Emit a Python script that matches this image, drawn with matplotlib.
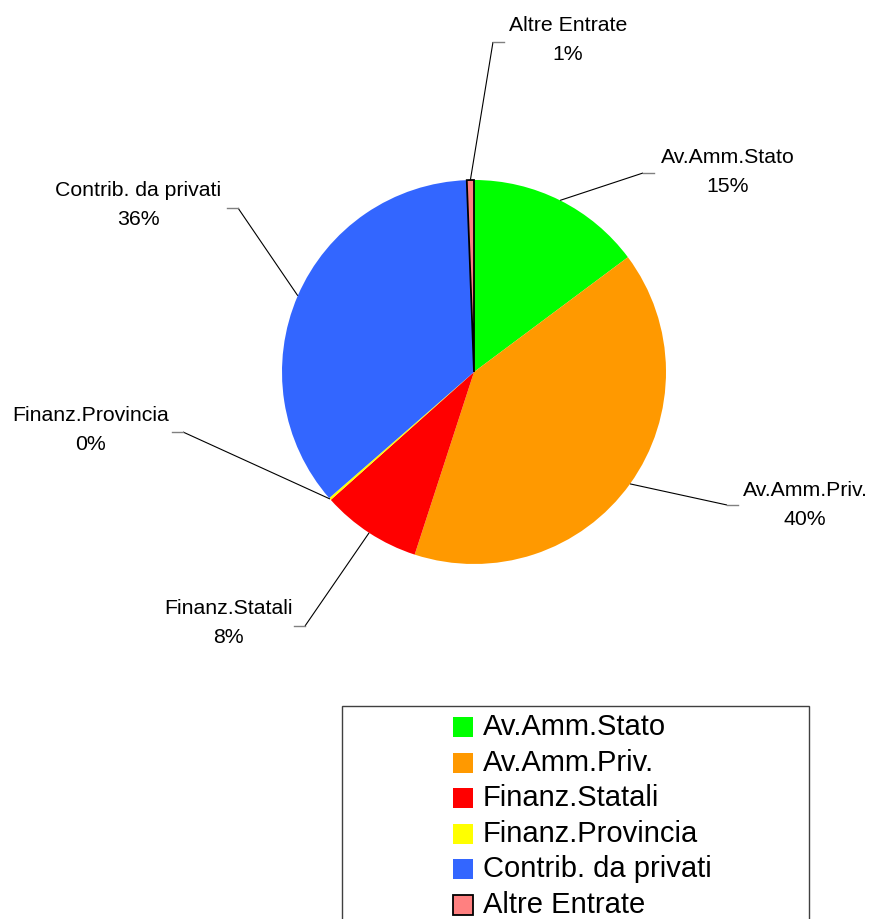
import numpy as np
from matplotlib import pyplot as plt
from matplotlib.patches import Rectangle

# Dati del grafico (percentuali)
categorie = ["Av.Amm.Stato", "Av.Amm.Priv.", "Finanz.Statali",
             "Finanz.Provincia", "Contrib. da privati", "Altre Entrate"]
percentuali = [14.8, 40.2, 8.4, 0.2, 35.8, 0.6]
colori = ["#00FF00", "#FF9900", "#FF0000", "#FFFF00", "#3366FF", "#FF8080"]

plt.rcParams['font.family'] = ['Liberation Sans', 'DejaVu Sans']

W, H = 874, 919
fig = plt.figure(figsize=(W / 100, H / 100), dpi=100)
ax = fig.add_axes([0, 0, 1, 1])

# Torta: centro e raggio in pixel (asse y verso l'alto)
cx, cy, r = 474, H - 372, 192
wedges, _ = ax.pie(percentuali, colors=colori, startangle=90, counterclock=False,
                   center=(cx, cy), radius=r, wedgeprops=dict(linewidth=0))
wedges[-1].set_edgecolor("black")
wedges[-1].set_linewidth(1.3)

# Posizione delle etichette (centro del testo, pixel dall'alto) e del gomito della linea guida
pos_etichette = [(728, 172), (805, 505), (228, 623), (91, 430), (138, 205), (568, 40)]
gomiti = [(643, 173), (727, 505), (305, 626), (183, 432), (238, 208), (493, 42)]
verso_stub = [1, 1, -1, -1, -1, 1]

totale = sum(percentuali)
for w, nome, val, (tx, ty), (gx, gy), s in zip(wedges, categorie, percentuali,
                                                 pos_etichette, gomiti, verso_stub):
    ang = np.deg2rad((w.theta1 + w.theta2) / 2)
    px = cx + r * np.cos(ang)
    py = cy + r * np.sin(ang)
    ax.plot([px, gx], [py, H - gy], color="black", lw=0.8, solid_capstyle="butt")
    ax.plot([gx, gx + 11 * s], [H - gy, H - gy], color="#808080", lw=1.0)
    ax.text(tx, H - ty, "{}\n{:.0f}%".format(nome, val / totale * 100),
            ha="center", va="center", fontsize=15.3, linespacing=1.72)

# Legenda disegnata a mano (riquadro tagliato dal bordo inferiore)
ax.add_patch(Rectangle((342, H - 940), 467, 940 - 706, facecolor="white",
                       edgecolor="#404040", lw=1.0))
for i, (nome, col) in enumerate(zip(categorie, colori)):
    yc = H - (727 + 35.6 * i)
    bordo = "black" if nome == "Altre Entrate" else col
    ax.add_patch(Rectangle((453, yc - 10), 20, 20, facecolor=col, edgecolor=bordo,
                           lw=1.3 if nome == "Altre Entrate" else 0))
    ax.text(483, yc, nome, ha="left", va="center", fontsize=21)

ax.set_xlim(0, W)
ax.set_ylim(0, H)
ax.set_aspect("equal")
ax.axis("off")

fig.savefig("out.png", dpi=100)
